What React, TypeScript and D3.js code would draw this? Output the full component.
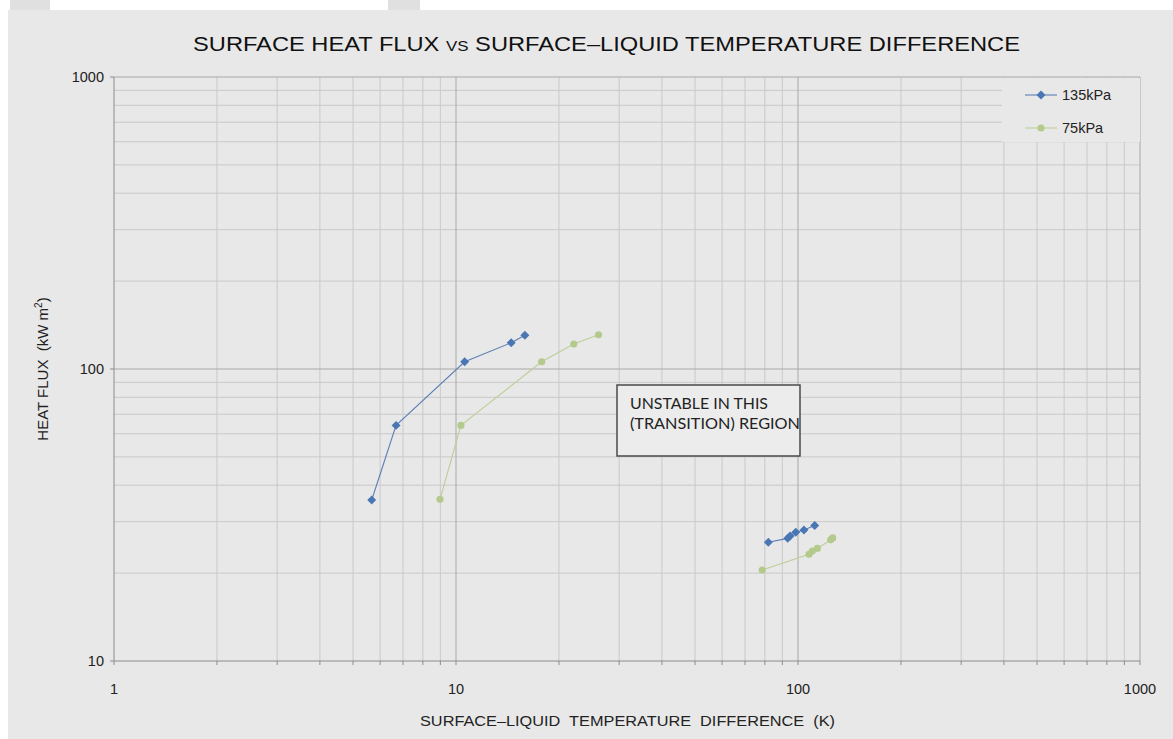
import React from "react";
import * as d3 from "d3";

// 135 kPa run (two segments: nucleate boiling, then film boiling)
const series135Low = [
  { dt: 5.67, q: 35.6 },
  { dt: 6.68, q: 64.1 },
  { dt: 10.6, q: 105.9 },
  { dt: 14.5, q: 123 },
  { dt: 15.9, q: 130.5 },
];
const series135High = [
  { dt: 81.9, q: 25.5 },
  { dt: 93.3, q: 26.3 },
  { dt: 94.8, q: 26.8 },
  { dt: 98.5, q: 27.6 },
  { dt: 104.1, q: 28.1 },
  { dt: 111.9, q: 29.1 },
];

// 75 kPa run
const series75Low = [
  { dt: 8.98, q: 35.8 },
  { dt: 10.34, q: 64.1 },
  { dt: 17.8, q: 105.9 },
  { dt: 22.1, q: 121.8 },
  { dt: 26.1, q: 131 },
];
const series75High = [
  { dt: 78.6, q: 20.5 },
  { dt: 107.7, q: 23.2 },
  { dt: 110.1, q: 23.8 },
  { dt: 113.9, q: 24.3 },
  { dt: 124.6, q: 26.0 },
  { dt: 126.3, q: 26.4 },
];

const xMajor = [1, 10, 100, 1000];
const yMajor = [10, 100, 1000];
const minorMult = [2, 3, 4, 5, 6, 7, 8, 9];

const BLUE = "#4a76b4";
const BLUE_LINE = "#5a7fb5";
const GREEN = "#b4c98c";
const GREEN_LINE = "#bccf98";

const W = 1173;
const H = 739;

export default function App() {
  const x = d3.scaleLog().domain([1, 1000]).range([114, 1140]);
  const y = d3.scaleLog().domain([10, 1000]).range([661, 77]);

  const xMinor = xMajor.slice(0, -1).flatMap((d) => minorMult.map((m) => d * m));
  const yMinor = yMajor.slice(0, -1).flatMap((d) => minorMult.map((m) => d * m));

  const line = d3
    .line<{ dt: number; q: number }>()
    .x((d) => x(d.dt))
    .y((d) => y(d.q));

  // square turned 45 degrees, like the spreadsheet diamond marker
  const diamond = d3.symbol().type(d3.symbolSquare).size(40)() as string;
  const circle = d3.symbol().type(d3.symbolCircle).size(40)() as string;

  const font = "'Liberation Sans', Arial, sans-serif";

  return (
    <svg width={W} height={H} style={{ position: "absolute", left: 0, top: 0 }}>
      <rect x={0} y={0} width={W} height={H} fill="#ffffff" />
      <rect x={8} y={10} width={W - 8} height={H - 10} fill="#e8e8e8" />
      <rect x={10} y={0} width={40} height={10} fill="#e0e0e0" />
      <rect x={388} y={0} width={32} height={10} fill="#e0e0e0" />

      {/* minor grid */}
      <g stroke="#c9c9c9" strokeWidth={1}>
        {xMinor.map((d) => (
          <line key={"xm" + d} x1={x(d)} x2={x(d)} y1={y(1000)} y2={y(10)} />
        ))}
        {yMinor.map((d) => (
          <line key={"ym" + d} x1={x(1)} x2={x(1000)} y1={y(d)} y2={y(d)} />
        ))}
      </g>
      {/* major grid */}
      <g stroke="#a8a8a8" strokeWidth={1}>
        {xMajor.slice(1).map((d) => (
          <line key={"xM" + d} x1={x(d)} x2={x(d)} y1={y(1000)} y2={y(10)} />
        ))}
        {yMajor.slice(1).map((d) => (
          <line key={"yM" + d} x1={x(1)} x2={x(1000)} y1={y(d)} y2={y(d)} />
        ))}
      </g>

      {/* legend background hides grid */}
      <rect x={1002} y={78} width={138} height={64} fill="#e8e8e8" />

      {/* axes */}
      <g stroke="#8c8c8c" strokeWidth={1}>
        <line x1={x(1)} x2={x(1)} y1={y(1000)} y2={y(10)} />
        <line x1={x(1)} x2={x(1000)} y1={y(10)} y2={y(10)} />
        {[...xMajor, ...xMinor].map((d) => (
          <line key={"xt" + d} x1={x(d)} x2={x(d)} y1={y(10)} y2={y(10) + 4} />
        ))}
        {yMajor.map((d) => (
          <line key={"yt" + d} x1={x(1) - 4} x2={x(1)} y1={y(d)} y2={y(d)} />
        ))}
      </g>

      {/* tick labels */}
      <g fontFamily={font} fontSize={14.5} fill="#222">
        {xMajor.map((d) => (
          <text key={"xl" + d} x={x(d)} y={694} textAnchor="middle">
            {d}
          </text>
        ))}
        {yMajor.map((d) => (
          <text key={"yl" + d} x={104} y={y(d) + 5} textAnchor="end">
            {d}
          </text>
        ))}
      </g>

      {/* series */}
      {[series135Low, series135High].map((s, i) => (
        <path key={"b" + i} d={line(s) as string} fill="none" stroke={BLUE_LINE} strokeWidth={1.1} />
      ))}
      {[series75Low, series75High].map((s, i) => (
        <path key={"g" + i} d={line(s) as string} fill="none" stroke={GREEN_LINE} strokeWidth={1.1} />
      ))}
      {[...series135Low, ...series135High].map((d, i) => (
        <path
          key={"bd" + i}
          d={diamond}
          transform={`translate(${x(d.dt)},${y(d.q)}) rotate(45)`}
          fill={BLUE}
        />
      ))}
      {[...series75Low, ...series75High].map((d, i) => (
        <path key={"gc" + i} d={circle} transform={`translate(${x(d.dt)},${y(d.q)})`} fill={GREEN} />
      ))}

      {/* annotation */}
      <rect x={617} y={385} width={183} height={71} fill="#ececec" stroke="#4a4a4a" strokeWidth={1.5} />
      <g fontFamily="Lato, 'Open Sans', sans-serif" fontSize={15} fill="#222">
        <text x={630} y={409} textLength={138} lengthAdjust="spacingAndGlyphs">UNSTABLE IN THIS</text>
        <text x={630} y={429} textLength={170} lengthAdjust="spacingAndGlyphs">(TRANSITION) REGION</text>
      </g>

      {/* legend */}
      <g fontFamily={font} fontSize={14.5} fill="#222">
        <line x1={1025} x2={1057} y1={95} y2={95} stroke={BLUE_LINE} strokeWidth={1.1} />
        <path d={diamond} transform="translate(1041,95) rotate(45)" fill={BLUE} />
        <text x={1062} y={100}>135kPa</text>
        <line x1={1025} x2={1057} y1={128} y2={128} stroke={GREEN_LINE} strokeWidth={1.1} />
        <path d={circle} transform="translate(1041,128)" fill={GREEN} />
        <text x={1062} y={133}>75kPa</text>
      </g>

      {/* title */}
      <text
        x={193}
        y={51}
        fontFamily={font}
        fontSize={21}
        fill="#111"
        textLength={827}
        lengthAdjust="spacingAndGlyphs"
      >
        SURFACE HEAT FLUX <tspan fontSize={15}>VS</tspan> SURFACE–LIQUID TEMPERATURE DIFFERENCE
      </text>

      {/* axis titles */}
      <text
        x={420}
        y={726}
        fontFamily={font}
        fontSize={15}
        fill="#222"
        textLength={415}
        lengthAdjust="spacingAndGlyphs"
        style={{ whiteSpace: "pre" }}
      >
        {"SURFACE–LIQUID  TEMPERATURE  DIFFERENCE  (K)"}
      </text>
      <text
        transform="translate(48,369) rotate(-90)"
        fontFamily={font}
        fontSize={15}
        fill="#222"
        textAnchor="middle"
        style={{ whiteSpace: "pre" }}
      >
        {"HEAT FLUX  (kW m"}
        <tspan fontSize={10} dy={-6}>2</tspan>
        <tspan dy={6}>)</tspan>
      </text>
    </svg>
  );
}
